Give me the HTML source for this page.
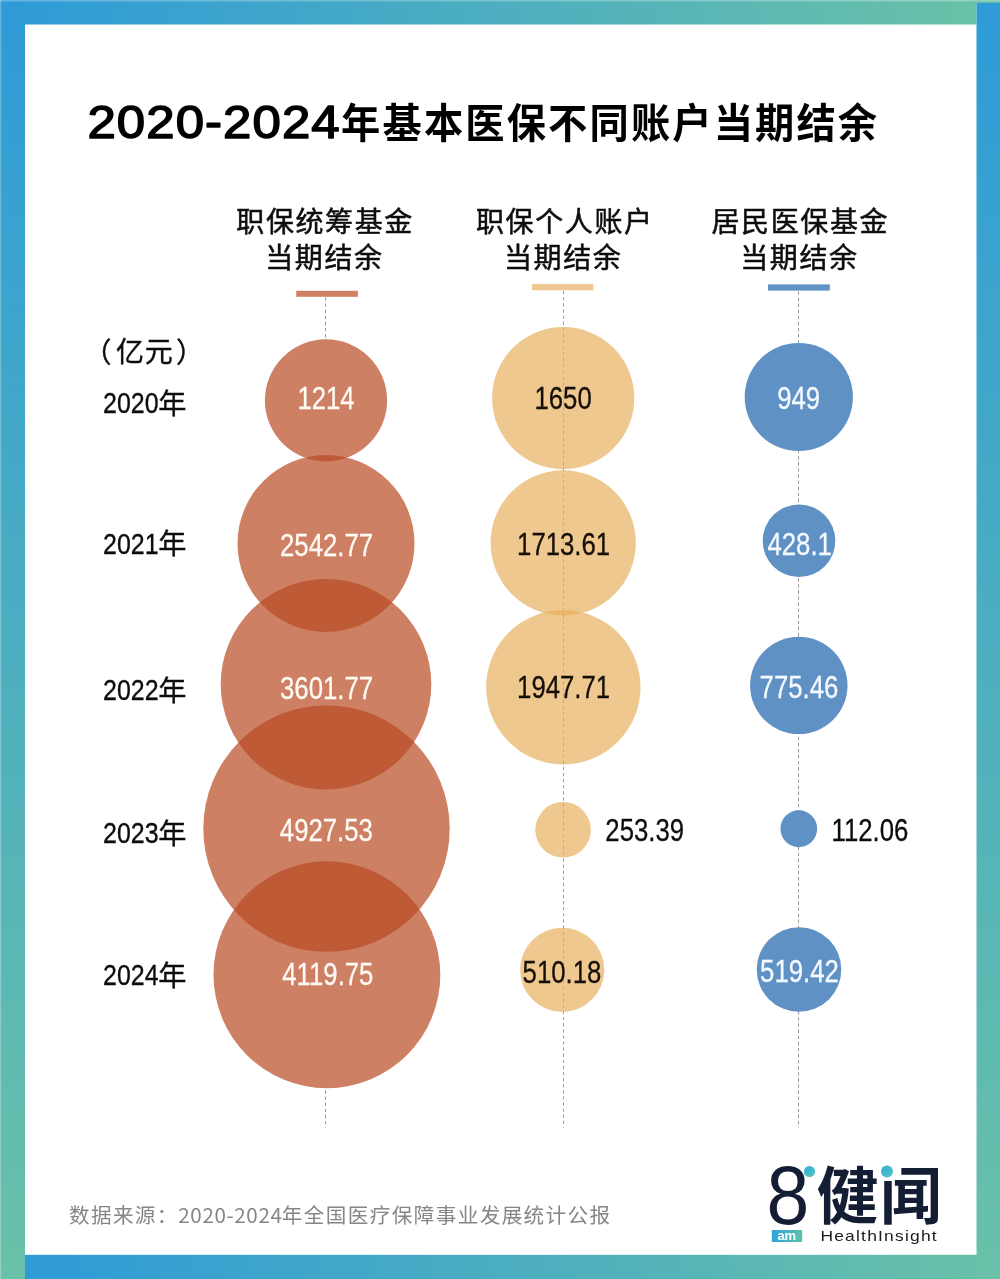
<!DOCTYPE html>
<html lang="zh-CN">
<head>
<meta charset="utf-8">
<title>2020-2024年基本医保不同账户当期结余</title>
<style>
html,body{margin:0;padding:0;background:#fff;}
body{width:1000px;height:1279px;overflow:hidden;position:relative;font-family:"Liberation Sans","Noto Sans CJK SC",sans-serif;}
svg{position:absolute;left:0;top:0;display:block;}
text{font-family:"Liberation Sans","Noto Sans CJK SC",sans-serif;}
.cjk{font-family:"Noto Sans CJK SC","Liberation Sans",sans-serif;}
.lat{font-family:"Liberation Sans","Noto Sans CJK SC",sans-serif;}
</style>
</head>
<body>
<svg width="1000" height="1279" viewBox="0 0 1000 1279">
<defs>
<linearGradient id="gh" x1="0" y1="0" x2="1" y2="0"><stop offset="0" stop-color="#2e9bd8"/><stop offset="1" stop-color="#6ac1a8"/></linearGradient>
<linearGradient id="gv" x1="0" y1="0" x2="0" y2="1"><stop offset="0" stop-color="#2e9bd8"/><stop offset="1" stop-color="#6ac1a8"/></linearGradient>
<linearGradient id="gam" x1="0" y1="0" x2="1" y2="0"><stop offset="0" stop-color="#2fa3de"/><stop offset="1" stop-color="#5fc1a9"/></linearGradient>
<linearGradient id="gdot" x1="0" y1="0" x2="1" y2="1"><stop offset="0" stop-color="#34acdc"/><stop offset="1" stop-color="#56c6c0"/></linearGradient>
</defs>
<!-- frame -->
<rect x="0" y="0" width="1000" height="1279" fill="#ffffff"/>
<rect x="0" y="0" width="1000" height="3" fill="url(#gh)"/>
<rect x="0" y="0" width="976.5" height="24.5" fill="url(#gh)"/>
<rect x="25" y="1254.8" width="975" height="24.2" fill="url(#gh)"/>
<rect x="0" y="0" width="25" height="1279" fill="url(#gv)"/>
<rect x="976.5" y="3" width="23.5" height="1276" fill="url(#gv)"/>
<rect x="0" y="0" width="1000" height="1.4" fill="#ffffff" fill-opacity="0.28"/>
<rect x="0" y="0" width="1.2" height="1279" fill="#ffffff" fill-opacity="0.28"/>

<g id="title" fill="#000">
<text class="lat" transform="translate(87.4,137.6) scale(1.107,1)" font-size="46" letter-spacing="0.99" stroke="#000" stroke-width="1.5" stroke-linejoin="round">2020-2024</text>
<text class="cjk" transform="translate(341.1,137.5) scale(0.97,1)" font-size="40.5" font-weight="700" letter-spacing="2.2">年基本医保不同账户当期结余</text>
</g>
<g id="heads" fill="#0d0d0d" stroke="#0d0d0d" stroke-width="0.5" font-size="28" class="cjk" letter-spacing="1.6">
<text class="cjk" x="236.3" y="232.1">职保统筹基金</text>
<text class="cjk" x="265.2" y="268.4">当期结余</text>
<text class="cjk" x="476.0" y="232.1">职保个人账户</text>
<text class="cjk" x="504.0" y="268.4">当期结余</text>
<text class="cjk" x="711.5" y="232.1">居民医保基金</text>
<text class="cjk" x="740.2" y="268.4">当期结余</text>
</g>
<rect x="296.3" y="290.8" width="61.6" height="6" fill="#cf8064"/>
<rect x="532" y="284.1" width="61.4" height="6.2" fill="#eec890"/>
<rect x="768" y="284.4" width="61.8" height="6.2" fill="#5f91c3"/>
<g id="axis" fill="#0d0d0d" stroke="#0d0d0d" stroke-width="0.35">
<text class="cjk" font-size="28" x="83.5 116 144.7 175.9" y="363.1 361.8 361.8 363.1">（亿元）</text>
<text class="lat" transform="translate(103.1,413) scale(0.832,1)" font-size="30">2020</text>
<text class="cjk" x="158.3" y="413.8" font-size="28.2">年</text>
<text class="lat" transform="translate(103.1,553.6) scale(0.832,1)" font-size="30">2021</text>
<text class="cjk" x="158.3" y="554.4" font-size="28.2">年</text>
<text class="lat" transform="translate(103.1,700) scale(0.832,1)" font-size="30">2022</text>
<text class="cjk" x="158.3" y="700.8" font-size="28.2">年</text>
<text class="lat" transform="translate(103.1,842.7) scale(0.832,1)" font-size="30">2023</text>
<text class="cjk" x="158.3" y="843.5" font-size="28.2">年</text>
<text class="lat" transform="translate(103.1,985) scale(0.832,1)" font-size="30">2024</text>
<text class="cjk" x="158.3" y="985.8" font-size="28.2">年</text>
</g>
<g id="guides" stroke="#7a7a7a" stroke-width="0.9" stroke-dasharray="3.5 2.6" stroke-opacity="0.8">
<line x1="325.5" y1="297.4" x2="325.5" y2="1127.5" stroke-opacity="0.12"/>
<line x1="325.5" y1="297.4" x2="325.5" y2="339.3" stroke-dashoffset="0.0"/>
<line x1="325.5" y1="1088.2" x2="325.5" y2="1127.5" stroke-dashoffset="3.9"/>
<line x1="563.5" y1="291" x2="563.5" y2="1127.5"/>
<line x1="798.5" y1="291.4" x2="798.5" y2="1127.5" stroke-opacity="0.12"/>
<line x1="798.5" y1="291.4" x2="798.5" y2="342.9" stroke-dashoffset="0.0"/>
<line x1="798.5" y1="451.1" x2="798.5" y2="504.4" stroke-dashoffset="1.1"/>
<line x1="798.5" y1="577.0" x2="798.5" y2="636.7" stroke-dashoffset="5.0"/>
<line x1="798.5" y1="734.1" x2="798.5" y2="810.4" stroke-dashoffset="3.5"/>
<line x1="798.5" y1="847.1" x2="798.5" y2="927.2" stroke-dashoffset="0.7"/>
<line x1="798.5" y1="1011.8" x2="798.5" y2="1127.5" stroke-dashoffset="0.6"/>
</g>
<g id="bubbles">
<circle cx="326" cy="400.4" r="61.1" fill="rgb(184,74,34)" fill-opacity="0.7"/>
<circle cx="326" cy="543.5" r="88.5" fill="rgb(184,74,34)" fill-opacity="0.7"/>
<circle cx="326" cy="684.3" r="105.3" fill="rgb(184,74,34)" fill-opacity="0.7"/>
<circle cx="326.5" cy="828.6" r="123.2" fill="rgb(184,74,34)" fill-opacity="0.7"/>
<circle cx="326.9" cy="974.75" r="113.4" fill="rgb(184,74,34)" fill-opacity="0.7"/>
<circle cx="563.2" cy="398.1" r="71.1" fill="rgb(231,176,94)" fill-opacity="0.7"/>
<circle cx="563.2" cy="542.9" r="72.6" fill="rgb(231,176,94)" fill-opacity="0.7"/>
<circle cx="563.3" cy="687.2" r="77.2" fill="rgb(231,176,94)" fill-opacity="0.7"/>
<circle cx="563.1" cy="829.8" r="27.8" fill="rgb(231,176,94)" fill-opacity="0.7"/>
<circle cx="562.2" cy="969.8" r="42.1" fill="rgb(231,176,94)" fill-opacity="0.7"/>
<circle cx="798.8" cy="397" r="54.1" fill="rgb(28,99,172)" fill-opacity="0.7"/>
<circle cx="799.0" cy="540.75" r="36.3" fill="rgb(28,99,172)" fill-opacity="0.7"/>
<circle cx="798.8" cy="685.4" r="48.7" fill="rgb(28,99,172)" fill-opacity="0.7"/>
<circle cx="798.8" cy="828.75" r="18.4" fill="rgb(28,99,172)" fill-opacity="0.7"/>
<circle cx="799.0" cy="969.5" r="42.3" fill="rgb(28,99,172)" fill-opacity="0.7"/>
</g>
<g id="values" font-size="32.2" class="lat" stroke-width="0.3">
<text class="lat" transform="translate(297.42,409.3) scale(0.8,1)" fill="#fffaf4" stroke="#fffaf4">1214</text>
<text class="lat" transform="translate(279.99,555.5) scale(0.8,1)" fill="#fffaf4" stroke="#fffaf4">2542.77</text>
<text class="lat" transform="translate(279.99,698.7) scale(0.8,1)" fill="#fffaf4" stroke="#fffaf4">3601.77</text>
<text class="lat" transform="translate(279.81,840.8) scale(0.8,1)" fill="#fffaf4" stroke="#fffaf4">4927.53</text>
<text class="lat" transform="translate(282.27,985.4) scale(0.8,1)" fill="#fffaf4" stroke="#fffaf4">4119.75</text>
<text class="lat" transform="translate(534.45,409.3) scale(0.8,1)" fill="#160e08" stroke="#160e08">1650</text>
<text class="lat" transform="translate(517.07,555.2) scale(0.8,1)" fill="#160e08" stroke="#160e08">1713.61</text>
<text class="lat" transform="translate(517.07,698.3) scale(0.8,1)" fill="#160e08" stroke="#160e08">1947.71</text>
<text class="lat" transform="translate(605.36,840.8) scale(0.8,1)" fill="#0d0d0d" stroke="#0d0d0d">253.39</text>
<text class="lat" transform="translate(522.62,983.1) scale(0.8,1)" fill="#160e08" stroke="#160e08">510.18</text>
<text class="lat" transform="translate(777.23,408.9) scale(0.8,1)" fill="#f4faff" stroke="#f4faff">949</text>
<text class="lat" transform="translate(767.48,554.6) scale(0.8,1)" fill="#f4faff" stroke="#f4faff">428.1</text>
<text class="lat" transform="translate(759.59,697.9) scale(0.8,1)" fill="#f4faff" stroke="#f4faff">775.46</text>
<text class="lat" transform="translate(831.53,840.8) scale(0.8,1)" fill="#0d0d0d" stroke="#0d0d0d">112.06</text>
<text class="lat" transform="translate(760.08,982.4) scale(0.8,1)" fill="#f4faff" stroke="#f4faff">519.42</text>
</g>
<text id="source" class="cjk" y="1222.6" font-size="20.6" font-weight="400" fill="#868686" letter-spacing="1.4"><tspan x="68.9">数据来源：</tspan><tspan x="178.3" letter-spacing="0.63">2020-2024</tspan><tspan x="281.8" letter-spacing="1.39">年全国医疗保障事业发展统计公报</tspan></text>
<g id="logo" fill="#131d33">
<text class="lat" transform="translate(766.4,1224.2) scale(0.924,1)" font-size="83.2">8</text>
<circle cx="809.5" cy="1171.5" r="5.6" fill="url(#gdot)"/>
<text class="cjk" x="816.6" y="1219.1" font-size="62" font-weight="700" letter-spacing="1.4">健闻</text>
<rect x="879" y="1162" width="21" height="18" fill="#fff"/>
<circle cx="887" cy="1171.5" r="6" fill="url(#gdot)"/>
<rect x="771.8" y="1230" width="30.4" height="12" fill="url(#gam)"/>
<text class="lat" x="786.8" y="1239.6" font-size="13" font-weight="700" fill="#fff" text-anchor="middle">am</text>
<text class="lat" transform="translate(820.4,1241) scale(1.15,1)" font-size="15.2" fill="#1c1c1c" letter-spacing="1.04">HealthInsight</text>
</g>
</svg>
</body>
</html>
